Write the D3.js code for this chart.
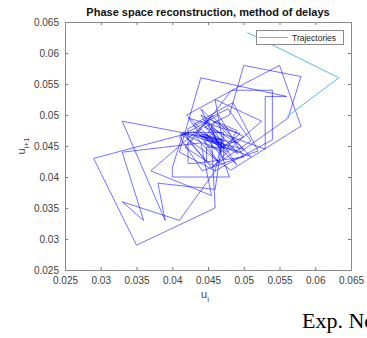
<!DOCTYPE html>
<html>
<head>
<meta charset="utf-8">
<script src="https://cdn.jsdelivr.net/npm/d3@7"></script>
<style>
  body { margin: 0; background: #fff; }
  svg { display: block; font-family: "Liberation Sans", Arial, sans-serif; }
</style>
</head>
<body>
<svg id="chart" width="367" height="338"></svg>
<script>
// delay series u_i, plotted as (u_i, u_i+1)
const uDark = [
  0.0475, 0.0445, 0.0470, 0.0455, 0.0460, 0.0350, 0.0290, 0.0430,
  0.0473, 0.0445, 0.0483, 0.0540, 0.0540, 0.0460, 0.0410, 0.0440,
  0.0560, 0.0530, 0.0530, 0.0445, 0.0480, 0.0500, 0.0580, 0.0562,
  0.0495, 0.0440, 0.0470, 0.0460, 0.0410, 0.0330, 0.0360, 0.0330,
  0.0440, 0.0455, 0.0370, 0.0410, 0.0450, 0.0490, 0.0420, 0.0500,
  0.0550, 0.0580, 0.0482, 0.0411, 0.0470, 0.0460, 0.0380, 0.0390,
  0.0330, 0.0490, 0.0455, 0.0480, 0.0400, 0.0400, 0.0415, 0.0470,
  0.0440, 0.0510, 0.0433, 0.0465, 0.0423, 0.0495, 0.0470, 0.0448,
  0.0448, 0.0425, 0.0455, 0.0500, 0.0445, 0.0460, 0.0490, 0.0475,
  0.0440, 0.0500, 0.0465, 0.0445, 0.0455, 0.0470, 0.0460, 0.0525,
  0.0490, 0.0455, 0.0415, 0.0472, 0.0472, 0.0430, 0.0485, 0.0520,
  0.0442, 0.0410, 0.0465, 0.0500, 0.0432, 0.0422, 0.0422, 0.0478,
  0.0510, 0.0458, 0.0418, 0.0448, 0.0492, 0.0438, 0.0468, 0.0452
];
const uLight = [0.0505, 0.0633, 0.0560, 0.0497];

const xTicks = [0.025, 0.03, 0.035, 0.04, 0.045, 0.05, 0.055, 0.06, 0.065];
const yTicks = [0.025, 0.03, 0.035, 0.04, 0.045, 0.05, 0.055, 0.06, 0.065];
const titleText = "Phase space reconstruction, method of delays";
const legendText = "Trajectories";

const svg = d3.select("#chart");
const m = { left: 65, right: 351, top: 22, bottom: 270 };

const x = d3.scaleLinear().domain([0.025, 0.065]).range([m.left, m.right]);
const y = d3.scaleLinear().domain([0.025, 0.065]).range([m.bottom, m.top]);

const toPoints = u => d3.range(u.length - 1).map(i => [u[i], u[i + 1]]);
const line = d3.line().x(d => x(d[0])).y(d => y(d[1]));

const fmt = d => String(+d.toFixed(3));

// axes
const gx = svg.append("g").attr("transform", `translate(0,${m.bottom})`)
  .call(d3.axisBottom(x).tickValues(xTicks).tickSize(-3).tickPadding(7).tickFormat(fmt));
const gxTop = svg.append("g").attr("transform", `translate(0,${m.top})`)
  .call(d3.axisTop(x).tickValues(xTicks).tickSize(-3).tickFormat(""));
const gy = svg.append("g").attr("transform", `translate(${m.left},0)`)
  .call(d3.axisLeft(y).tickValues(yTicks).tickSize(-3).tickPadding(6).tickFormat(fmt));
const gyRight = svg.append("g").attr("transform", `translate(${m.right},0)`)
  .call(d3.axisRight(y).tickValues(yTicks).tickSize(-3).tickFormat(""));

[gx, gxTop, gy, gyRight].forEach(g => {
  g.select(".domain").remove();
  g.selectAll(".tick line").attr("stroke", "#777");
  g.selectAll(".tick text").attr("fill", "#404040").style("font-size", "10px");
});

// data lines
svg.append("path").datum(toPoints(uDark))
  .attr("d", line).attr("fill", "none")
  .attr("stroke", "#0000ff").attr("stroke-opacity", 0.55).attr("stroke-width", 1);
svg.append("path").datum(toPoints(uLight))
  .attr("d", line).attr("fill", "none")
  .attr("stroke", "#4dbeee").attr("stroke-width", 1);

// box
svg.append("rect")
  .attr("x", m.left + 0.5).attr("y", m.top + 0.5)
  .attr("width", m.right - m.left).attr("height", m.bottom - m.top)
  .attr("fill", "none").attr("stroke", "#8a8a8a");

// title
svg.append("text").attr("x", 208).attr("y", 16).attr("text-anchor", "middle")
  .style("font-size", "11px").style("font-weight", "bold").attr("fill", "#111")
  .text(titleText);

// axis labels
const xl = svg.append("text").attr("x", 205).attr("y", 298).attr("text-anchor", "middle")
  .attr("fill", "#404040").style("font-size", "11px");
xl.append("tspan").text("u");
xl.append("tspan").attr("dy", 4).style("font-size", "8px").text("i");

const yl = svg.append("text").attr("transform", "translate(25,146) rotate(-90)")
  .attr("text-anchor", "middle").attr("fill", "#404040").style("font-size", "11px");
yl.append("tspan").text("u");
yl.append("tspan").attr("dy", 4).style("font-size", "8px").text("i+1");

// legend
const lg = svg.append("g");
lg.append("rect").attr("x", 256.5).attr("y", 30.5).attr("width", 87).attr("height", 14)
  .attr("fill", "#fff").attr("stroke", "#8a8a8a");
lg.append("line").attr("x1", 259).attr("x2", 288).attr("y1", 37.5).attr("y2", 37.5)
  .attr("stroke", "#4dbeee").attr("stroke-width", 1);
lg.append("text").attr("x", 292).attr("y", 40.5).style("font-size", "8.5px")
  .attr("fill", "#222").text(legendText);

// caption fragment below the figure (cut by the right edge, as in the source)
svg.append("text").attr("x", 302).attr("y", 328)
  .style("font-family", "'Liberation Serif', 'Times New Roman', serif")
  .style("font-size", "22px").attr("fill", "#000").text("Exp. No");
</script>
</body>
</html>
